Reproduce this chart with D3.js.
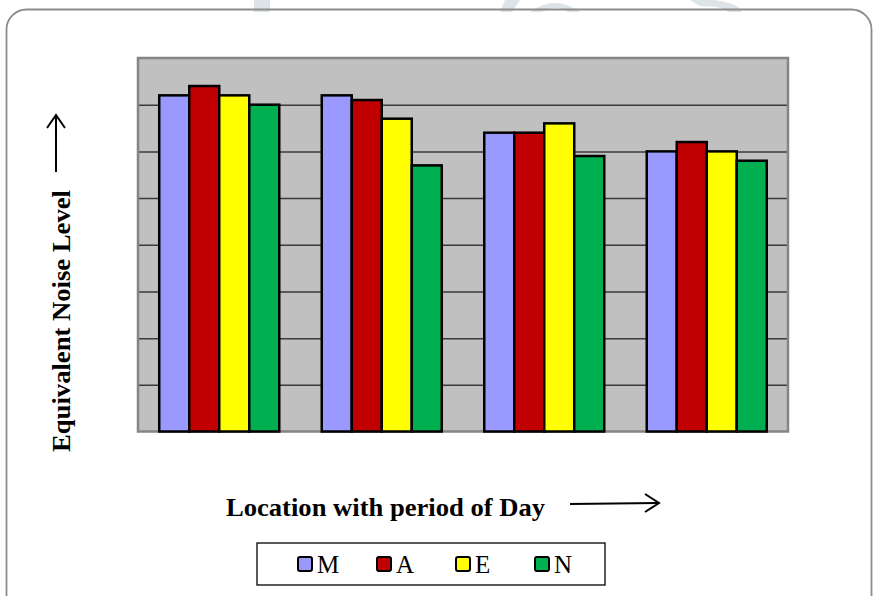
<!DOCTYPE html>
<html>
<head>
<meta charset="utf-8">
<script src="https://cdn.jsdelivr.net/npm/d3@7"></script>
<style>
  html, body { margin: 0; padding: 0; background: #ffffff; }
  svg { display: block; }
</style>
</head>
<body>
<svg id="chart" width="875" height="596"></svg>
<script>
// Equivalent noise level at four locations, by period of day
const locations = ["L1", "L2", "L3", "L4"];
const periods = ["M", "A", "E", "N"];
const valuesM = [72, 72, 64, 60];
const valuesA = [74, 71, 64, 62];
const valuesE = [72, 67, 66, 60];
const valuesN = [70, 57, 59, 58];
const yTicks = [0, 10, 20, 30, 40, 50, 60, 70, 80];
const periodColors = ["#9999ff", "#c00000", "#ffff00", "#00b050"];

const seriesValues = [valuesM, valuesA, valuesE, valuesN];

const svg = d3.select("#chart");

// faint background emblem peeking above the frame
const emblem = svg.append("g").attr("fill", "#dde4e7");
emblem.append("rect").attr("x", 254).attr("y", 0).attr("width", 16).attr("height", 12);
emblem.append("path").attr("d", "M505,0 L520,0 L512,12 L500,12 Z");
emblem.append("path").attr("d", "M530,12 Q555,-6 580,12 L568,12 Q555,4 542,12 Z");
emblem.append("path").attr("d", "M690,0 L715,0 Q740,4 742,12 L728,12 Q722,6 700,6 Z");

// outer frame
svg.append("rect")
  .attr("x", 6.5).attr("y", 9.5)
  .attr("width", 865).attr("height", 620)
  .attr("rx", 20).attr("ry", 20)
  .attr("fill", "none")
  .attr("stroke", "#8c8c8c")
  .attr("stroke-width", 1.8);

const plot = { left: 138, right: 788, top: 58, bottom: 431.5 };

const x0 = d3.scaleBand()
  .domain(locations)
  .range([plot.left, plot.right])
  .paddingInner(0.2615)
  .paddingOuter(0.13075);

const x1 = d3.scaleBand()
  .domain(periods)
  .range([0, x0.bandwidth()])
  .padding(0);

const y = d3.scaleLinear()
  .domain([yTicks[0], yTicks[yTicks.length - 1]])
  .range([plot.bottom, plot.top]);

const color = d3.scaleOrdinal().domain(periods).range(periodColors);

// plot area background
svg.append("rect")
  .attr("x", plot.left).attr("y", plot.top)
  .attr("width", plot.right - plot.left)
  .attr("height", plot.bottom - plot.top)
  .attr("fill", "#c0c0c0");

// horizontal gridlines via a tickless axis
const grid = svg.append("g")
  .attr("transform", `translate(${plot.left},0)`)
  .call(d3.axisLeft(y)
    .tickValues(yTicks.slice(1, -1))
    .tickSize(-(plot.right - plot.left))
    .tickFormat(""));
grid.select(".domain").remove();
grid.selectAll(".tick line")
  .attr("stroke", "#3a3a3a")
  .attr("stroke-width", 1.5);

// plot border
svg.append("rect")
  .attr("x", plot.left).attr("y", plot.top)
  .attr("width", plot.right - plot.left)
  .attr("height", plot.bottom - plot.top)
  .attr("fill", "none")
  .attr("stroke", "#858585")
  .attr("stroke-width", 2.5);

// grouped bars
const rows = locations.map((loc, i) => ({
  loc,
  vals: periods.map((p, j) => ({ p, v: seriesValues[j][i] }))
}));

svg.append("g")
  .selectAll("g")
  .data(rows)
  .join("g")
  .attr("transform", d => `translate(${x0(d.loc)},0)`)
  .selectAll("rect")
  .data(d => d.vals)
  .join("rect")
  .attr("x", d => x1(d.p))
  .attr("y", d => y(d.v))
  .attr("width", x1.bandwidth())
  .attr("height", d => y(0) - y(d.v))
  .attr("fill", d => color(d.p))
  .attr("stroke", "#000")
  .attr("stroke-width", 2.5);

// axis titles
const serif = "'Liberation Serif', 'Times New Roman', serif";

svg.append("text")
  .attr("transform", "translate(70,321) rotate(-90)")
  .attr("text-anchor", "middle")
  .attr("font-family", serif)
  .attr("font-weight", "bold")
  .attr("font-size", 25)
  .attr("textLength", 262)
  .attr("lengthAdjust", "spacingAndGlyphs")
  .attr("fill", "#000")
  .text("Equivalent Noise Level");

svg.append("text")
  .attr("x", 385.5).attr("y", 516)
  .attr("text-anchor", "middle")
  .attr("font-family", serif)
  .attr("font-weight", "bold")
  .attr("font-size", 25)
  .attr("textLength", 319)
  .attr("lengthAdjust", "spacingAndGlyphs")
  .attr("fill", "#000")
  .text("Location with period of Day");

// direction arrows
const arrows = svg.append("g")
  .attr("stroke", "#000")
  .attr("stroke-width", 2)
  .attr("fill", "none");
arrows.append("line").attr("x1", 56).attr("y1", 172).attr("x2", 56).attr("y2", 116);
arrows.append("path").attr("d", "M47,128 L56,115 L65,128");
arrows.append("line").attr("x1", 570).attr("y1", 504).attr("x2", 658).attr("y2", 503);
arrows.append("path").attr("d", "M645,494 L659,503 L645,512");

// legend
const legend = svg.append("g");
legend.append("rect")
  .attr("x", 257).attr("y", 543)
  .attr("width", 348).attr("height", 42)
  .attr("fill", "#fff")
  .attr("stroke", "#000")
  .attr("stroke-width", 1.3);

const legendX = d3.scalePoint().domain(periods).range([298, 535]);
const item = legend.selectAll("g.item")
  .data(periods)
  .join("g")
  .attr("class", "item")
  .attr("transform", p => `translate(${legendX(p)},557)`);
item.append("rect")
  .attr("width", 14).attr("height", 14)
  .attr("rx", 2)
  .attr("fill", p => color(p))
  .attr("stroke", "#000")
  .attr("stroke-width", 2);
item.append("text")
  .attr("x", 19).attr("y", 16)
  .attr("font-family", serif)
  .attr("font-size", 25)
  .attr("fill", "#000")
  .text(p => p);
</script>
</body>
</html>
